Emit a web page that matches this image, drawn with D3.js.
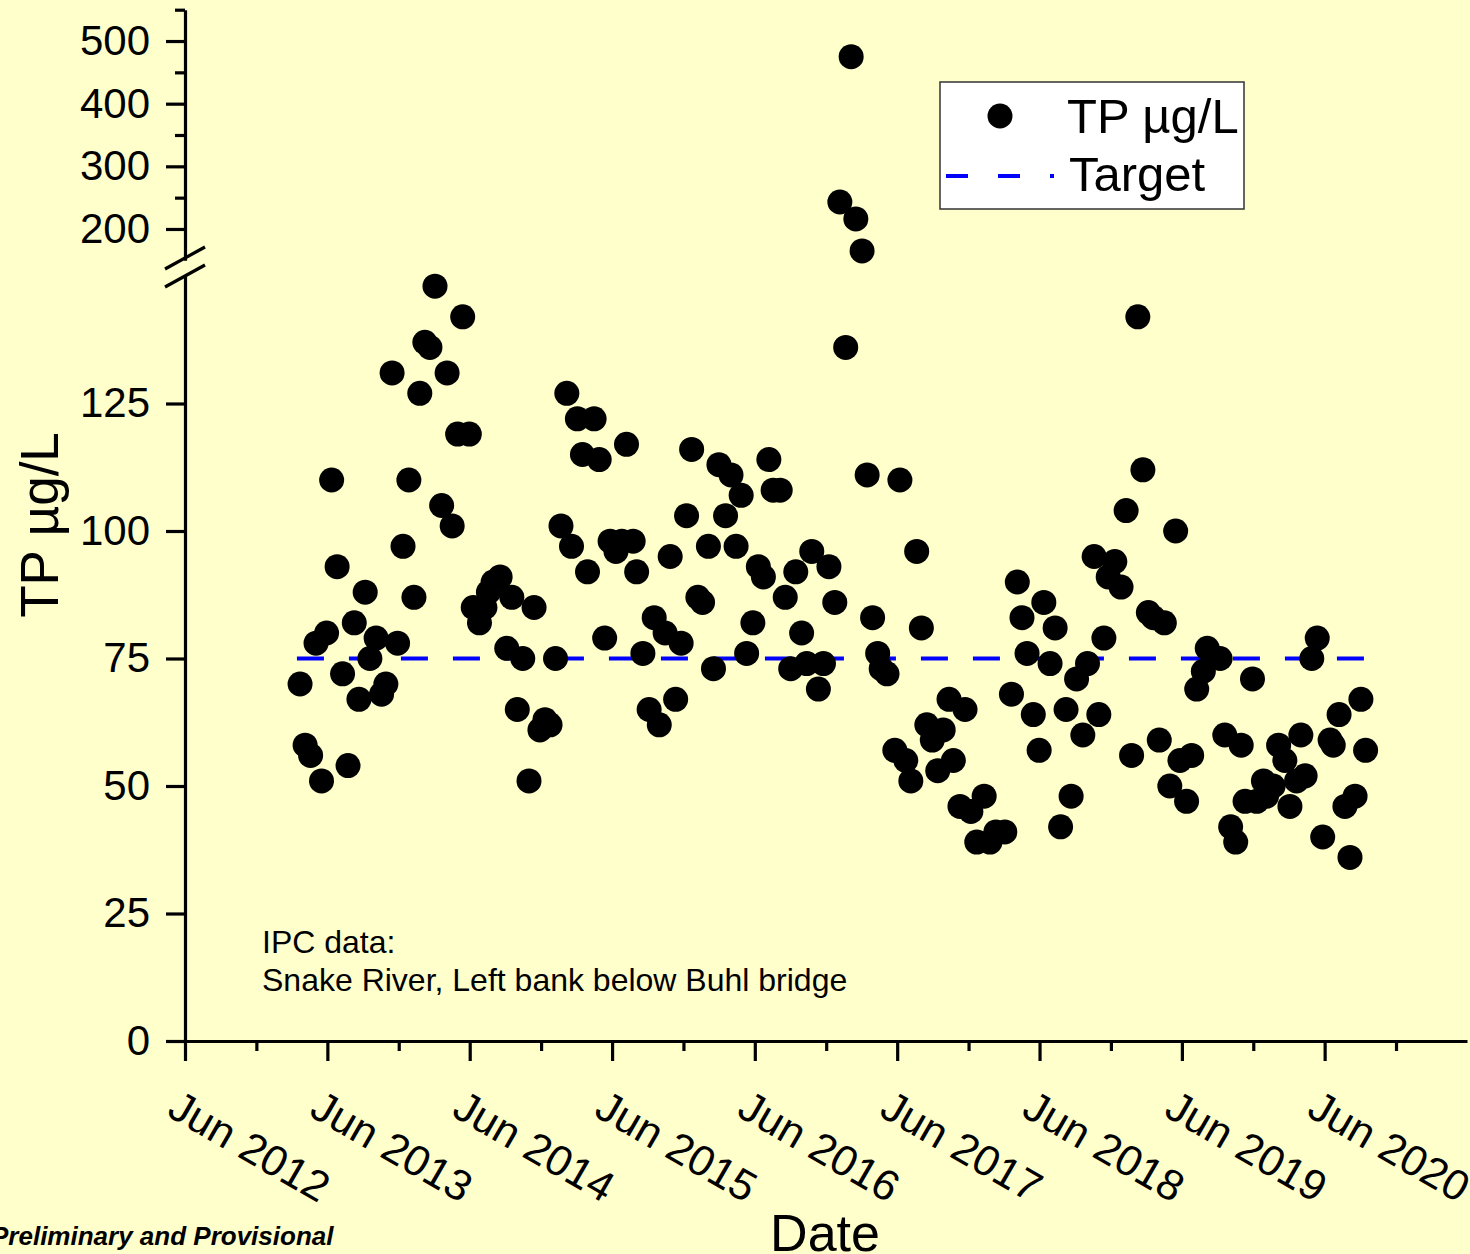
<!DOCTYPE html>
<html>
<head>
<meta charset="utf-8">
<script src="https://cdn.jsdelivr.net/npm/d3@7"></script>
<style>
  html, body { margin: 0; padding: 0; background: #FFFFCC; }
  svg { display: block; }
</style>
</head>
<body>
<svg id="chart" width="1470" height="1254"></svg>
<script>
// Sampling dates and total phosphorus (µg/L), Snake River left bank below Buhl bridge
const sampleDates = [
  "2013-03-23","2013-04-05","2013-04-19","2013-05-03","2013-05-17","2013-05-30","2013-06-12","2013-06-26",
  "2013-07-10","2013-07-24","2013-08-09","2013-08-21","2013-09-06","2013-09-18","2013-10-04","2013-10-18",
  "2013-10-29","2013-11-14","2013-11-28","2013-12-12","2013-12-27","2014-01-09","2014-01-24","2014-02-06",
  "2014-02-19","2014-03-04","2014-03-21","2014-04-04","2014-04-17","2014-05-01","2014-05-14","2014-05-31",
  "2014-06-10","2014-06-26","2014-07-10","2014-07-19","2014-07-31","2014-08-18","2014-09-04","2014-09-17",
  "2014-10-01","2014-10-15","2014-10-31","2014-11-13","2014-11-28","2014-12-11","2014-12-24","2015-01-07",
  "2015-01-21","2015-02-05","2015-02-17","2015-03-04","2015-03-17","2015-03-30","2015-04-16","2015-04-29",
  "2015-05-13","2015-05-27","2015-06-11","2015-06-26","2015-07-08","2015-07-25","2015-08-03","2015-08-19",
  "2015-09-04","2015-09-17","2015-09-30","2015-10-15","2015-10-28","2015-11-11","2015-11-25","2015-12-09",
  "2015-12-22","2016-01-07","2016-01-19","2016-02-03","2016-02-16","2016-03-01","2016-03-18","2016-04-01",
  "2016-04-14","2016-04-27","2016-05-11","2016-05-27","2016-06-10","2016-06-23","2016-07-07","2016-07-18",
  "2016-08-05","2016-08-18","2016-09-01","2016-09-14","2016-09-29","2016-10-12","2016-10-25","2016-11-11",
  "2016-11-24","2016-12-08","2016-12-23","2017-01-05","2017-01-20","2017-02-03","2017-02-15","2017-03-03",
  "2017-03-16","2017-03-30","2017-04-12","2017-04-21","2017-05-06","2017-05-26","2017-06-08","2017-06-23",
  "2017-07-06","2017-07-21","2017-08-02","2017-08-16","2017-08-30","2017-09-13","2017-09-27","2017-10-12",
  "2017-10-23","2017-11-09","2017-11-22","2017-12-07","2017-12-22","2018-01-10","2018-01-25","2018-02-09",
  "2018-03-04","2018-03-21","2018-04-05","2018-04-17","2018-04-30","2018-05-16","2018-05-31","2018-06-12",
  "2018-06-28","2018-07-11","2018-07-25","2018-08-08","2018-08-21","2018-09-04","2018-09-20","2018-10-02",
  "2018-10-19","2018-10-31","2018-11-13","2018-11-24","2018-12-11","2018-12-27","2019-01-09","2019-01-23",
  "2019-02-08","2019-02-21","2019-03-07","2019-03-20","2019-04-04","2019-04-17","2019-05-01","2019-05-16",
  "2019-05-27","2019-06-13","2019-06-26","2019-07-09","2019-07-26","2019-08-05","2019-09-07","2019-09-19",
  "2019-10-04","2019-10-17","2019-10-31","2019-11-10","2019-11-29","2019-12-10","2019-12-27","2020-01-04",
  "2020-01-21","2020-02-04","2020-02-20","2020-03-04","2020-03-21","2020-04-01","2020-04-12","2020-04-29",
  "2020-05-13","2020-05-27","2020-06-15","2020-06-23","2020-07-08","2020-07-23","2020-08-05","2020-08-18",
  "2020-09-02","2020-09-14"
];
const tpValues = [
  70, 58, 56, 78, 51, 80, 110, 93,
  72, 54, 82, 67, 88, 75, 79, 68,
  70, 131, 78, 97, 110, 87, 127, 137,
  136, 148, 105, 131, 101, 119, 142, 119,
  85, 82, 85, 88, 90, 91, 77, 87,
  65, 75, 51, 85, 61, 63, 62, 75,
  101, 127, 97, 122, 115, 92, 122, 114,
  79, 98, 96, 98, 117, 98, 92, 76,
  65, 83, 62, 80, 95, 67, 78, 103,
  116, 87, 86, 97, 73, 113, 103, 111,
  97, 107, 76, 82, 93, 91, 114, 108,
  108, 87, 73, 92, 80, 74, 96, 69,
  74, 93, 86, 243, 136, 475, 216, 165,
  111, 83, 76, 73, 72, 57, 110, 55,
  51, 96, 81, 62, 59, 53, 61, 67,
  55, 46, 65, 45, 39, 48, 39, 41,
  41, 68, 90, 83, 76, 64, 57, 86,
  74, 81, 42, 65, 48, 71, 60, 74,
  95, 64, 79, 91, 94, 89, 104, 56,
  142, 112, 84, 83, 59, 82, 50, 100,
  55, 47, 56, 69, 72.5, 77, 75, 60,
  42, 39, 58, 47, 71, 47, 51, 48,
  50, 58, 55, 46, 51, 60, 52, 75,
  79, 40, 59, 58, 64, 46, 36, 48,
  67, 57
];

// Target concentration
const targetDates = ["2013-03-15", "2020-09-20"];
const targetValues = [75, 75];

// Axis ticks
const lowerTicks = [0, 25, 50, 75, 100, 125];
const upperTicks = [200, 300, 400, 500];
const upperMinorTicks = [250, 350, 450, 550];
const dateTicks = ["2012-06-01","2013-06-01","2014-06-01","2015-06-01","2016-06-01",
                   "2017-06-01","2018-06-01","2019-06-01","2020-06-01"];
const dateMinorTicks = ["2012-12-01","2013-12-01","2014-12-01","2015-12-01","2016-12-01",
                        "2017-12-01","2018-12-01","2019-12-01","2020-12-01"];

const FONT = "'Liberation Sans', Arial, Helvetica, sans-serif";
const parse = d3.utcParse("%Y-%m-%d");
const svg = d3.select("#chart");

svg.append("rect").attr("width", 1470).attr("height", 1254).attr("fill", "#FFFFCC");

// Scales: time on x, broken y axis (lower 0–150, upper 150–550)
const x = d3.scaleUtc()
  .domain([parse("2012-06-01"), parse("2021-06-01")])
  .range([185, 1467]);
const yLow = d3.scaleLinear().domain([0, 150]).range([1041, 276]);
const yHigh = d3.scaleLinear().domain([150, 550]).range([260.3, 9.7]);
const yOf = v => (v > 150 ? yHigh(v) : yLow(v));

const AX_W = 3.2;

function styleAxis(g, size) {
  g.attr("font-family", FONT).attr("font-size", size || 42);
  g.selectAll("path.domain").attr("stroke", "#000").attr("stroke-width", AX_W);
  g.selectAll(".tick line").attr("stroke", "#000").attr("stroke-width", AX_W);
  g.selectAll(".tick text").attr("fill", "#000");
}

// Lower y axis
const gLow = svg.append("g").attr("transform", "translate(185,0)")
  .call(d3.axisLeft(yLow).tickValues(lowerTicks).tickSize(19).tickSizeOuter(0).tickPadding(16));
styleAxis(gLow);

// Upper y axis, major and minor ticks
const gHigh = svg.append("g").attr("transform", "translate(185,0)")
  .call(d3.axisLeft(yHigh).tickValues(upperTicks).tickSize(19).tickSizeOuter(0).tickPadding(16));
styleAxis(gHigh);
const gHighMinor = svg.append("g").attr("transform", "translate(185,0)")
  .call(d3.axisLeft(yHigh).tickValues(upperMinorTicks).tickSize(10).tickSizeOuter(0).tickFormat(""));
styleAxis(gHighMinor);
gHighMinor.select("path.domain").remove();

// Axis break marks
const breakMarks = [258, 276];
svg.append("g").selectAll("line").data(breakMarks).join("line")
  .attr("x1", 165).attr("x2", 205)
  .attr("y1", d => d + 11).attr("y2", d => d - 11)
  .attr("stroke", "#000").attr("stroke-width", AX_W);

// X axis
const gX = svg.append("g").attr("transform", "translate(0,1041)")
  .call(d3.axisBottom(x).tickValues(dateTicks.map(parse)).tickSize(20).tickSizeOuter(0)
    .tickFormat(d3.utcFormat("%b %Y")));
styleAxis(gX, 43);
gX.selectAll(".tick text")
  .attr("x", 0).attr("y", 0).attr("dy", 0)
  .attr("text-anchor", "start")
  .attr("transform", "translate(-20,74) rotate(30)");
const gXMinor = svg.append("g").attr("transform", "translate(0,1041)")
  .call(d3.axisBottom(x).tickValues(dateMinorTicks.map(parse)).tickSize(10).tickSizeOuter(0).tickFormat(""));
styleAxis(gXMinor);
gXMinor.select("path.domain").remove();

// Target line
const target = targetDates.map((d, i) => ({ date: parse(d), value: targetValues[i] }));
svg.append("path").datum(target)
  .attr("d", d3.line().x(d => x(d.date)).y(d => yLow(d.value)))
  .attr("fill", "none").attr("stroke", "#0000FF").attr("stroke-width", 4)
  .attr("stroke-dasharray", "27,25");

// Sample points
const samples = sampleDates.map((d, i) => ({ date: parse(d), value: tpValues[i] }));
svg.append("g").selectAll("circle").data(samples).join("circle")
  .attr("cx", d => x(d.date)).attr("cy", d => yOf(d.value))
  .attr("r", 12.5).attr("fill", "#000");

// Legend
const legend = svg.append("g").attr("font-family", FONT).attr("font-size", 49);
legend.append("rect").attr("x", 940).attr("y", 82).attr("width", 304).attr("height", 127)
  .attr("fill", "#FFFFFF").attr("stroke", "#333").attr("stroke-width", 1.5);
legend.append("circle").attr("cx", 1000).attr("cy", 116).attr("r", 12.5).attr("fill", "#000");
legend.append("text").attr("x", 1067).attr("y", 133).text("TP µg/L");
legend.append("line").attr("x1", 946).attr("x2", 1054).attr("y1", 176).attr("y2", 176)
  .attr("stroke", "#0000FF").attr("stroke-width", 4).attr("stroke-dasharray", "22,30");
legend.append("text").attr("x", 1069).attr("y", 191).text("Target");

// Axis titles
svg.append("text").attr("font-family", FONT).attr("font-size", 53)
  .attr("text-anchor", "middle").attr("transform", "translate(58,525) rotate(-90)")
  .text("TP µg/L");
svg.append("text").attr("font-family", FONT).attr("font-size", 52)
  .attr("text-anchor", "middle").attr("x", 825).attr("y", 1251)
  .text("Date");

// Site annotation
const note = svg.append("text").attr("font-family", FONT).attr("font-size", 32);
note.append("tspan").attr("x", 262).attr("y", 953).text("IPC data:");
note.append("tspan").attr("x", 262).attr("y", 991).text("Snake River, Left bank below Buhl bridge");

svg.append("text").attr("font-family", FONT).attr("font-size", 26)
  .attr("font-weight", "bold").attr("font-style", "italic")
  .attr("x", -9).attr("y", 1245).text("Preliminary and Provisional");
</script>
</body>
</html>
